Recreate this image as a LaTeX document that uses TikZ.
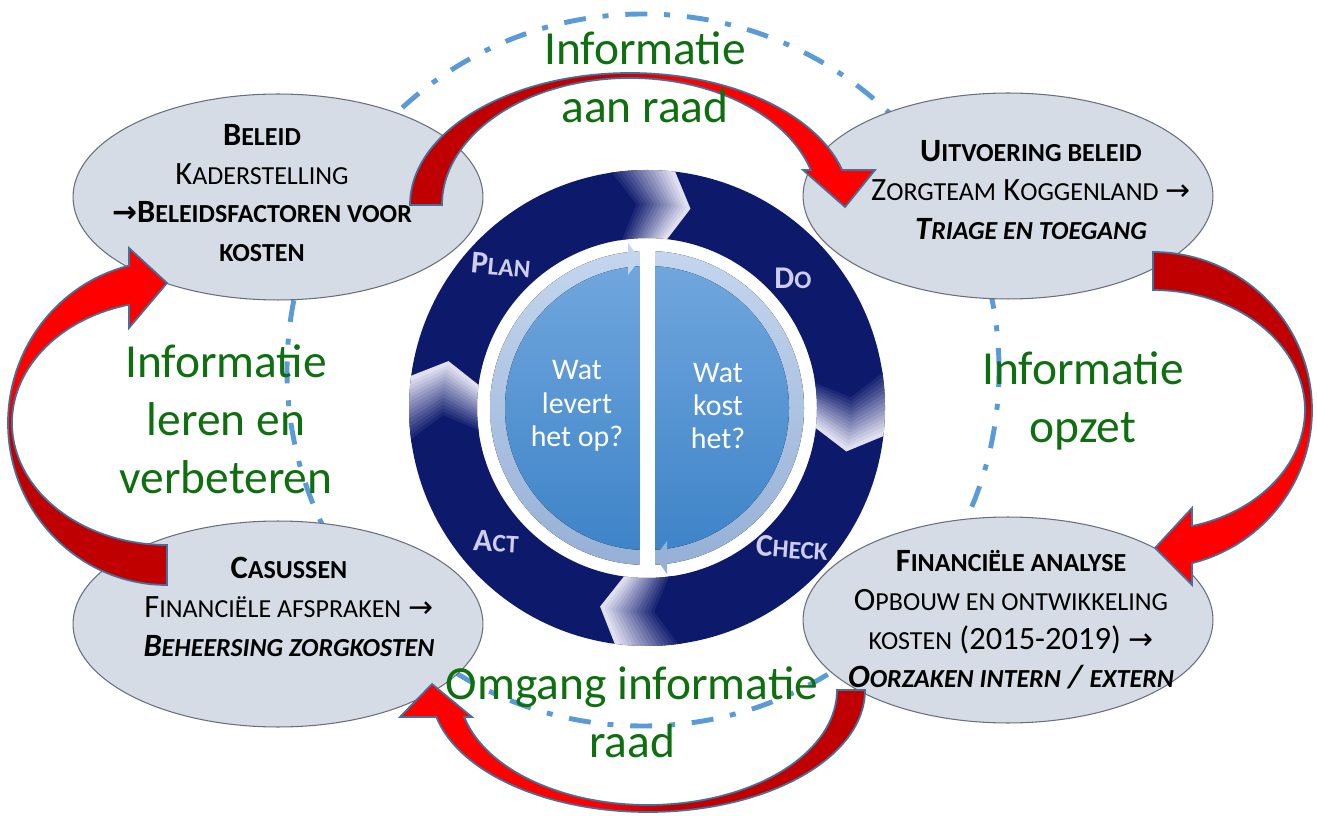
\documentclass[tikz,border=0pt]{standalone}
\usepackage{fontspec}
\setmainfont{Carlito}
\newfontfamily\symb{DejaVu Sans}
\usetikzlibrary{shapes.geometric}

\definecolor{ellipsvul}{RGB}{214,220,229}
\definecolor{randgrijs}{RGB}{105,110,120}
\definecolor{stippelblauw}{RGB}{91,155,213}
\definecolor{marine}{RGB}{13,26,108}
\definecolor{lila}{RGB}{240,238,250}
\definecolor{fasetekst}{RGB}{205,205,236}
\definecolor{bandboven}{RGB}{196,214,238}
\definecolor{bandonder}{RGB}{150,176,214}
\definecolor{schijfboven}{RGB}{112,166,221}
\definecolor{schijfonder}{RGB}{62,132,200}
\definecolor{donkerrood}{RGB}{192,0,0}
\definecolor{felrood}{RGB}{255,0,0}
\definecolor{pijlrand}{RGB}{65,113,156}
\definecolor{infogroen}{RGB}{15,110,15}

\pgfdeclarehorizontalshading{roodsplit}{100bp}{color(0bp)=(donkerrood); color(46bp)=(donkerrood); color(54bp)=(felrood); color(100bp)=(felrood)}

\makeatletter
\newcommand\klein[2]{#1{\fontsize{\fpeval{0.8*\f@size}}{\f@baselineskip}\selectfont #2}}
\makeatother
\newcommand\pijl{{\symb\fontsize{17pt}{22pt}\selectfont →}}

\begin{document}
\begin{tikzpicture}[x=0.02cm, y=0.02cm,
    kader/.style={ellipse, draw=randgrijs, fill=ellipsvul, line width=0.6pt,
      minimum width=8.2cm, minimum height=4.12cm, inner sep=0pt},
    kadertekst/.style={align=center, inner sep=0pt,
      font=\fontsize{18.5pt}{22pt}\selectfont},
    groen/.style={align=center, text=infogroen, inner sep=0pt,
      font=\fontsize{27pt}{33pt}\selectfont},
    fase/.style={text=fasetekst, inner sep=1pt,
      font=\bfseries\fontsize{18pt}{20pt}\selectfont},
    vraag/.style={align=center, text=white, inner sep=0pt,
      font=\fontsize{17pt}{19pt}\selectfont},
    stippel/.style={draw=stippelblauw, line width=2.8pt,
      dash pattern=on 12.5pt off 9.6pt on 3.4pt off 9.6pt},
    rodepijl/.style={draw=pijlrand, line width=1pt, shading=roodsplit}]
    \useasboundingbox (0,0) rectangle (1317,815);

    % dash-dot circle
    \draw[stippel] (643,445) circle[radius=356];

    % pdca ring
    \begin{scope}[shift={(647,407)}]
      \fill[marine, even odd rule] (0,0) circle[radius=238] (0,0) circle[radius=170];
      % chevron tips, navy fading to white
      \foreach \g in {94,4,183,273}
      \foreach \i in {0,...,15}{
        \pgfmathsetmacro\a{\g-\i}
        \pgfmathsetmacro\b{\g-\i-1.3}
        \pgfmathtruncatemacro\m{100-6.2*\i}
        \fill[marine!\m!lila]
        (\a+5.5:238) -- (\a:204) -- (\a+5.5:170) -- (\b+5.5:170) -- (\b:204) -- (\b+5.5:238) -- cycle;
      }
      % inner disc
      \fill[top color=bandboven, bottom color=bandonder] (0,0) circle[radius=157];
      \fill[top color=schijfboven, bottom color=schijfonder] (0,0) circle[radius=142];
      \fill[white] (-7,-169) rectangle (8,169);
      \fill[bandboven] (-19,165) -- (-7,149) -- (-19,133) -- cycle;
      \fill[bandonder] (20,-133) -- (8,-149) -- (20,-166) -- cycle;
    \end{scope}
    \node[vraag] (opbrengst) at (577,409) {Wat\\levert\\het op?};
    \node[vraag] (kost) at (718,409) {Wat\\kost\\het?};
    \node[fase, rotate=-5] (plan) at (501,550) {\klein{P}{LAN}};
    \node[fase] (do) at (793,537) {\klein{D}{O}};
    \node[fase, rotate=-4] (check) at (792,267) {\klein{C}{HECK}};
    \node[fase, rotate=-3] (act) at (496,273) {\klein{A}{CT}};

    % ellipses
    \node[kader] (beleid) at (278,618) {};
    \node[kader] (uitvoering) at (1008,619) {};
    \node[kader] (casussen) at (278,191) {};
    \node[kader] (analyse) at (1008,195) {};

    \node[kadertekst] (beleidtekst) at (262,622)
    {\textbf{\klein{B}{ELEID}}\\
      \klein{K}{ADERSTELLING}\\
      \textbf{\pijl\klein{B}{ELEIDSFACTOREN VOOR}}\\
      \textbf{\klein{}{KOSTEN}}};
    \node[kadertekst] (uitvoeringtekst) at (1031,625)
    {\textbf{\klein{U}{ITVOERING BELEID}}\\
      \klein{Z}{ORGTEAM} \klein{K}{OGGENLAND} \pijl\\
      \textbf{\textit{\klein{T}{RIAGE EN TOEGANG}}}};
    \node[kadertekst] (casussentekst) at (289,208)
    {\textbf{\klein{C}{ASUSSEN}}\\
      \klein{F}{INANCIËLE AFSPRAKEN} \pijl\\
      \textbf{\textit{\klein{B}{EHEERSING ZORGKOSTEN}}}};
    \node[kadertekst] (analysetekst) at (1011,195)
    {\textbf{\klein{F}{INANCIËLE ANALYSE}}\\
      \klein{O}{PBOUW EN ONTWIKKELING}\\
      \klein{}{KOSTEN} (2015-2019) \pijl\\
      \textbf{\textit{\klein{O}{ORZAKEN INTERN} / \klein{}{EXTERN}}}};

    % red curved arrows
    \path[rodepijl, shading angle=0] (410,610)
    arc[start angle=180, end angle=15.4, x radius=220, y radius=132]
    -- (875,645) -- (845,608) -- (803,645) -- (810.7,645)
    arc[start angle=16, end angle=180, x radius=188, y radius=127] -- cycle;
    \path[rodepijl, shading angle=-90] (1153,563)
    arc[start angle=90, end angle=-75.8, x radius=159, y radius=158]
    -- (1192,230) -- (1155,267) -- (1192,307) -- (1192,289)
    arc[start angle=-75.1, end angle=90, x radius=152, y radius=120] -- cycle;
    \path[rodepijl, shading angle=180] (865,125)
    arc[start angle=0, end angle=-167.2, x radius=217, y radius=122]
    -- (400,98) -- (432,131) -- (472,98) -- (464.3,98)
    arc[start angle=-166.4, end angle=0, x radius=189, y radius=115] -- cycle;
    \path[rodepijl, shading angle=90] (167,230)
    arc[start angle=-90, end angle=-256.2, x radius=159, y radius=162]
    -- (129,567) -- (167,532) -- (129,487) -- (129,510.3)
    arc[start angle=-255.8, end angle=-90, x radius=155, y radius=122] -- cycle;

    % green labels
    \node[groen] (aanraad) at (645,738) {Informatie\\aan raad};
    \node[groen] (leren) at (226,396) {Informatie\\leren en\\verbeteren};
    \node[groen] (opzet) at (1083,414) {Informatie\\opzet};
    \node[groen] (omgang) at (632,103) {Omgang informatie\\raad};
\end{tikzpicture}
\end{document}
